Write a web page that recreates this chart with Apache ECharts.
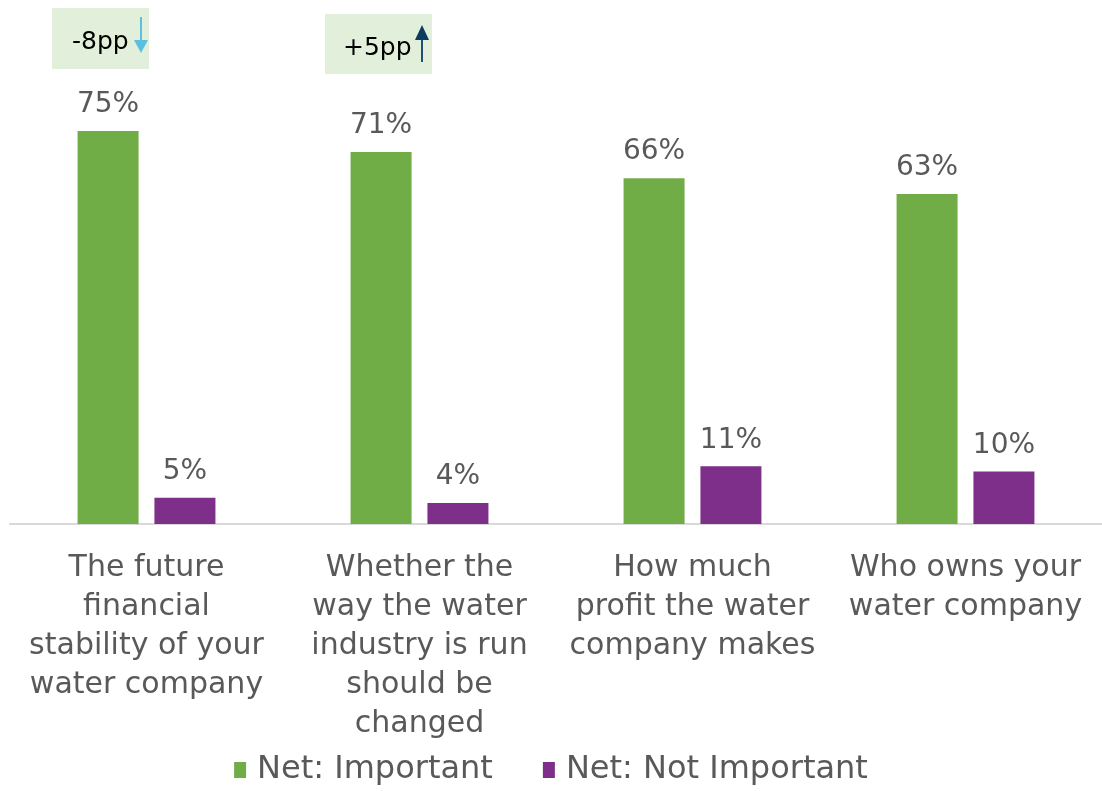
<!DOCTYPE html>
<html>
<head>
<meta charset="utf-8">
<script src="https://cdn.jsdelivr.net/npm/echarts@6/dist/echarts.min.js"></script>
<style>
html, body { margin: 0; padding: 0; background: #fff; }
#main { width: 1102px; height: 791px; }
</style>
</head>
<body>
<div id="main"></div>
<script>
// categories and values
var categories = [
    'The future\nfinancial\nstability of your\nwater company',
    'Whether the\nway the water\nindustry is run\nshould be\nchanged',
    'How much\nprofit the water\ncompany makes',
    'Who owns your\nwater company'
];
var importantData = [75, 71, 66, 63];
var notImportantData = [5, 4, 11, 10];
var seriesNames = ['Net: Important', 'Net: Not Important'];
var changeLabels = ['-8pp', '+5pp'];

var textColor = '#595959';
var fontFam = '"DejaVu Sans", sans-serif';

var myChart = echarts.init(document.getElementById('main'));

var option = {
    animation: false,
    color: ['#70AD47', '#7D2F8A'],
    grid: {
        left: 10,
        right: 0,
        top: 0,
        bottom: 267,
        containLabel: false
    },
    legend: {
        bottom: 0,
        left: 'center',
        itemWidth: 12,
        itemHeight: 16,
        itemGap: 50,
        icon: 'rect',
        textStyle: { color: textColor, fontSize: 32, fontFamily: fontFam, padding: [0, 0, 0, 6] },
        data: seriesNames
    },
    xAxis: {
        type: 'category',
        data: categories,
        axisLine: { lineStyle: { color: '#d9d9d9', width: 2 } },
        axisTick: { show: false },
        axisLabel: {
            color: textColor,
            fontSize: 30,
            fontFamily: fontFam,
            lineHeight: 39,
            margin: 25,
            interval: 0
        }
    },
    yAxis: {
        type: 'value',
        min: 0,
        max: 100,
        show: false,
        splitLine: { show: false }
    },
    series: [{
        type: 'bar',
        name: seriesNames[0],
        data: importantData,
        barWidth: 61,
        barGap: '26%',
        label: {
            show: true,
            position: 'top',
            distance: 12,
            formatter: '{c}%',
            color: textColor,
            fontSize: 28,
            fontFamily: fontFam
        }
    }, {
        type: 'bar',
        name: seriesNames[1],
        data: notImportantData,
        barWidth: 61,
        barGap: '26%',
        label: {
            show: true,
            position: 'top',
            distance: 12,
            formatter: '{c}%',
            color: textColor,
            fontSize: 28,
            fontFamily: fontFam
        }
    }],
    graphic: [
        // -8pp box
        { type: 'rect', shape: { x: 52, y: 8, width: 97, height: 61 }, style: { fill: '#E2EFDA' } },
        { type: 'text', x: 72, y: 42, style: { text: changeLabels[0], fill: '#000', font: '25px "DejaVu Sans", sans-serif', verticalAlign: 'middle' } },
        { type: 'line', shape: { x1: 141, y1: 17, x2: 141, y2: 42 }, style: { stroke: '#5BC0DE', lineWidth: 2 } },
        { type: 'polygon', shape: { points: [[134, 40], [148, 40], [141, 53]] }, style: { fill: '#5BC0DE' } },
        // +5pp box
        { type: 'rect', shape: { x: 325, y: 14, width: 107, height: 60 }, style: { fill: '#E2EFDA' } },
        { type: 'text', x: 343, y: 48, style: { text: changeLabels[1], fill: '#000', font: '25px "DejaVu Sans", sans-serif', verticalAlign: 'middle' } },
        { type: 'line', shape: { x1: 422, y1: 38, x2: 422, y2: 62 }, style: { stroke: '#1F4E79', lineWidth: 2 } },
        { type: 'polygon', shape: { points: [[415, 40], [429, 40], [422, 25]] }, style: { fill: '#0E3C61' } }
    ]
};
myChart.setOption(option);
</script>
</body>
</html>
